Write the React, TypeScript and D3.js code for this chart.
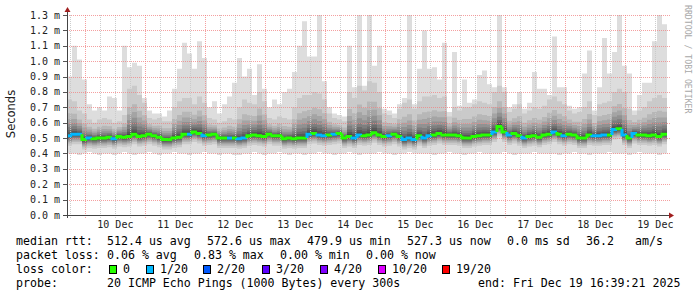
import React from 'react';
import * as d3 from 'd3';

const START = new Date(2025, 11, 9, 16, 39, 21);
const END = new Date(2025, 11, 19, 16, 39, 21);
const STEP_HOURS = 2;

// median rtt per 2-hour step (ms)
const medianMs = [
  0.515,0.525,0.525,0.49,0.50,0.495,0.50,0.50,0.505,0.495,0.51,0.505,0.51,0.525,0.51,0.515,0.525,0.515,0.505,0.49,0.49,0.50,0.505,0.525,
  0.525,0.54,0.53,0.515,0.52,0.525,0.50,0.50,0.50,0.50,0.495,0.50,0.515,0.52,0.515,0.51,0.525,0.515,0.515,0.495,0.50,0.495,0.50,0.50,
  0.525,0.53,0.52,0.515,0.52,0.525,0.53,0.50,0.51,0.50,0.52,0.515,0.52,0.535,0.52,0.51,0.515,0.525,0.51,0.49,0.50,0.49,0.515,0.50,
  0.515,0.52,0.53,0.52,0.52,0.52,0.515,0.50,0.50,0.51,0.515,0.52,0.52,0.54,0.575,0.54,0.52,0.53,0.515,0.50,0.51,0.515,0.505,0.52,
  0.525,0.54,0.525,0.515,0.525,0.52,0.50,0.50,0.52,0.515,0.515,0.52,0.52,0.555,0.56,0.52,0.50,0.53,0.52,0.52,0.515,0.52,0.51,0.525,
];
// lost pings (of 20) per step
const lossCount = [
  1,1,1,0,1,0,0,0,0,1,0,0,0,0,0,0,0,0,0,0,0,0,0,0,
  1,0,0,1,0,0,0,0,1,0,1,1,0,0,0,0,0,0,0,0,0,0,0,0,
  1,0,1,1,0,1,0,0,0,1,1,0,0,0,0,0,1,0,0,1,1,1,0,1,
  1,0,0,0,0,0,0,0,0,0,0,0,0,1,0,0,1,0,0,1,0,0,0,0,
  0,1,0,1,0,0,0,0,0,1,1,1,0,1,0,1,0,1,0,0,0,0,0,0,
];
// slowest ping per step (ms)
const maxMs = [
  0.9,1.1,1.01,0.88,0.72,0.68,0.7,0.68,0.77,0.76,0.68,1.1,0.96,0.99,0.97,0.76,0.68,0.66,0.66,0.64,0.68,0.82,0.95,1.12,
  1.05,0.95,1.13,1.02,0.7,0.74,0.66,0.72,0.77,0.86,1.02,0.9,0.95,0.78,0.98,0.82,0.7,0.75,0.72,0.8,0.82,0.93,1.1,1.26,
  1.03,1.03,1.3,0.87,0.7,0.66,0.65,0.64,1.1,0.83,1.3,0.84,1.3,0.97,1.1,0.69,0.68,0.66,0.72,0.76,1.3,0.72,0.95,1.2,
  0.95,0.96,0.88,1.12,0.67,1.06,0.71,0.88,0.73,0.75,0.91,0.94,0.85,0.83,1.3,0.83,0.7,0.72,0.8,0.69,0.73,0.93,0.82,0.82,
  0.78,1.16,0.83,0.83,0.71,0.69,0.70,0.92,1.07,0.68,0.83,1.15,0.92,1.06,1.3,0.97,0.92,0.68,0.78,0.86,0.86,1.13,1.3,1.24,
];
// second slowest ping per step (ms)
const p19Ms = [
  0.75,0.74,0.68,0.66,0.62,0.6,0.62,0.63,0.62,0.6,0.61,0.65,0.82,0.84,0.78,0.76,0.63,0.62,0.64,0.62,0.61,0.7,0.74,0.76,
  0.76,0.72,0.77,0.73,0.63,0.62,0.6,0.61,0.63,0.62,0.7,0.75,0.73,0.72,0.8,0.74,0.63,0.62,0.64,0.63,0.62,0.7,0.76,0.78,
  0.78,0.8,0.79,0.75,0.66,0.65,0.66,0.67,0.8,0.76,0.84,0.82,0.87,0.86,0.8,0.72,0.68,0.69,0.72,0.76,0.75,0.72,0.74,0.77,
  0.77,0.78,0.76,0.77,0.68,0.7,0.68,0.7,0.73,0.72,0.74,0.73,0.72,0.8,0.84,0.82,0.71,0.7,0.72,0.69,0.68,0.7,0.69,0.71,
  0.75,0.77,0.74,0.72,0.68,0.69,0.68,0.7,0.74,0.72,0.72,0.73,0.74,0.8,0.82,0.8,0.69,0.7,0.68,0.7,0.74,0.76,0.78,0.76,
];
// fastest ping per step (ms)
const minMs = [
  0.40,0.40,0.39,0.40,0.41,0.40,0.39,0.40,0.40,0.39,0.40,0.41,0.40,0.39,0.40,0.40,0.41,0.40,0.39,0.40,0.40,0.41,0.40,0.40,
  0.39,0.40,0.40,0.41,0.40,0.40,0.39,0.40,0.40,0.39,0.39,0.40,0.40,0.41,0.40,0.39,0.40,0.40,0.41,0.40,0.39,0.40,0.40,0.39,
  0.40,0.40,0.41,0.40,0.40,0.39,0.40,0.40,0.41,0.40,0.39,0.40,0.40,0.40,0.41,0.40,0.40,0.39,0.40,0.40,0.41,0.40,0.40,0.40,
  0.40,0.39,0.40,0.40,0.41,0.40,0.40,0.39,0.40,0.40,0.41,0.40,0.40,0.40,0.40,0.41,0.40,0.39,0.40,0.40,0.40,0.41,0.40,0.40,
  0.40,0.40,0.39,0.40,0.40,0.41,0.40,0.40,0.39,0.40,0.40,0.40,0.41,0.40,0.40,0.40,0.39,0.40,0.41,0.40,0.40,0.40,0.39,0.40,
];
// ping ranks 2..9 below the median (ms)
const lowOffsets = [0.065, 0.05, 0.04, 0.032, 0.025, 0.018, 0.012, 0.006];
// ping ranks 12..18 as a share of the median..2nd-slowest span
const upShares = [0.05, 0.1, 0.16, 0.24, 0.34, 0.46, 0.62];

const yTicks = [0, 0.1, 0.2, 0.3, 0.4, 0.5, 0.6, 0.7, 0.8, 0.9, 1.0, 1.1, 1.2, 1.3];
const dayLabels = ['10 Dec', '11 Dec', '12 Dec', '13 Dec', '14 Dec', '15 Dec', '16 Dec', '17 Dec', '18 Dec', '19 Dec'];

const lossLegend = [
  { label: '0', color: '#26ff00', bx: 109, tx: 123 },
  { label: '1/20', color: '#00b8ff', bx: 146, tx: 160 },
  { label: '2/20', color: '#0059ff', bx: 203, tx: 217 },
  { label: '3/20', color: '#5e00ff', bx: 262, tx: 276 },
  { label: '4/20', color: '#7e00ff', bx: 320, tx: 334 },
  { label: '10/20', color: '#dd00ff', bx: 378, tx: 392 },
  { label: '19/20', color: '#ff0000', bx: 442, tx: 456 },
];
const lossColorFor = (n: number) => (n === 0 ? '#26ff00' : n === 1 ? '#00b8ff' : n === 2 ? '#0059ff' : n === 3 ? '#5e00ff' : n <= 5 ? '#7e00ff' : n <= 10 ? '#dd00ff' : '#ff0000');

const legendRows: { y: number; items: { x: number; t: string }[] }[] = [
  { y: 245, items: [
    { x: 16, t: 'median rtt:' }, { x: 107, t: '512.4 us avg' }, { x: 207, t: '572.6 us max' },
    { x: 307, t: '479.9 us min' }, { x: 407, t: '527.3 us now' }, { x: 507, t: '0.0 ms sd' },
    { x: 586, t: '36.2' }, { x: 635, t: 'am/s' } ] },
  { y: 259, items: [
    { x: 16, t: 'packet loss:' }, { x: 107, t: '0.06 % avg' }, { x: 194, t: '0.83 % max' },
    { x: 280, t: '0.00 % min' }, { x: 366, t: '0.00 % now' } ] },
  { y: 273, items: [{ x: 16, t: 'loss color:' }] },
  { y: 286.5, items: [
    { x: 16, t: 'probe:' }, { x: 107, t: '20 ICMP Echo Pings (1000 Bytes) every 300s' },
    { x: 478, t: 'end: Fri Dec 19 16:39:21 2025' } ] },
];

const MONO = "'DejaVu Sans Mono', monospace";

export default function App() {
  const X0 = 67, X1 = 667, Y0 = 215, Y1 = 15;
  const x = d3.scaleTime().domain([START, END]).range([X0, X1]);
  const y = d3.scaleLinear().domain([0, 1.3]).range([Y0, Y1]);
  const n = medianMs.length;
  const t = (i: number) => d3.timeHour.offset(START, i * STEP_HOURS);

  // 20 sorted pings per step
  const pings = medianMs.map((m, i) => {
    const mx = maxMs[i];
    const p19 = Math.min(p19Ms[i], mx - 0.03);
    const arr: number[] = [minMs[i]];
    lowOffsets.forEach((o) => arr.push(m - o));
    arr.push(m - 0.002, m + 0.003);
    upShares.forEach((s) => arr.push(m + s * (p19 - m)));
    arr.push(p19, mx);
    return arr;
  });

  const layers = d3.range(1, 11).map((k) => {
    const g = Math.floor((190 / 10) * (10 - k)) + 50;
    const color = d3.rgb(g, g, g).formatHex();
    const area = d3.area<number>()
      .x((i) => x(t(i)))
      .y0((i) => y(Math.min(1.3, pings[Math.min(i, n - 1)][k - 1])))
      .y1((i) => y(Math.min(1.3, pings[Math.min(i, n - 1)][20 - k])))
      .curve(d3.curveStepAfter);
    return { color, d: area(d3.range(0, n + 1)) || '' };
  });

  const dayStart = d3.timeDay.ceil(START);
  const majors = d3.timeDay.range(dayStart, END);
  const minors = d3.timeHour.every(6)!.range(START, END).filter((d) => d.getHours() !== 0);

  return (
    <svg width={697} height={297} style={{ position: 'absolute', left: 0, top: 0, background: '#fff' }}>
      <rect x={0} y={0} width={697} height={297} fill="#ffffff" />
      {/* smoke */}
      {layers.map((l, i) => <path key={i} d={l.d} fill={l.color} />)}
      {/* grid */}
      {minors.map((d, i) => (
        <line key={'mi' + i} x1={Math.round(x(d)) + 0.5} x2={Math.round(x(d)) + 0.5} y1={Y1} y2={Y0 + 3}
          stroke="#c8c8c8" strokeOpacity={0.9} strokeDasharray="1,1" />
      ))}
      {majors.map((d, i) => (
        <line key={'ma' + i} x1={Math.round(x(d)) + 0.5} x2={Math.round(x(d)) + 0.5} y1={Y1} y2={Y0 + 3}
          stroke="#f08080" strokeOpacity={0.75} strokeDasharray="1,1" />
      ))}
      {yTicks.map((v, i) => (
        <g key={'yt' + i}>
          {v > 0 && <line x1={X0} x2={X1 + 3} y1={Math.round(y(v)) + 0.5} y2={Math.round(y(v)) + 0.5}
            stroke="#f08080" strokeOpacity={0.75} strokeDasharray="1,1" />}
          <line x1={X0 - 4} x2={X0} y1={Math.round(y(v)) + 0.5} y2={Math.round(y(v)) + 0.5} stroke="#555" />
          <text x={60} y={y(v) + 3.5} textAnchor="end" fontFamily={MONO} fontSize={10} fill="#222">
            {v.toFixed(1) + ' m'}
          </text>
        </g>
      ))}
      {/* median */}
      {medianMs.map((m, i) => {
        const x0 = x(t(i)), x1 = x(t(i + 1));
        const yPrev = y(i > 0 ? medianMs[i - 1] : m);
        const yc = y(m);
        return <path key={'md' + i} d={`M${x0},${yPrev}V${yc}H${Math.min(x1, X1)}`} fill="none"
          stroke={lossColorFor(lossCount[i])} strokeWidth={3} />;
      })}
      {/* axes */}
      <line x1={X0 - 4} x2={X1 + 4} y1={Y0 + 0.5} y2={Y0 + 0.5} stroke="#444" />
      <line x1={X0 + 0.5} x2={X0 + 0.5} y1={Y0 + 3} y2={Y1 - 5} stroke="#444" />
      <path d={`M${X1 + 2},${Y0 - 2.5}L${X1 + 7},${Y0 + 0.5}L${X1 + 2},${Y0 + 3.5}Z`} fill="#a01e1e" />
      <path d={`M${X0 - 2.5},${Y1 - 3}L${X0 + 0.5},${Y1 - 8}L${X0 + 3.5},${Y1 - 3}Z`} fill="#a01e1e" />
      {/* x labels */}
      {dayLabels.map((lab, i) => (
        <text key={'xl' + i} x={x(d3.timeHour.offset(majors[i], 12))} y={228} textAnchor="middle"
          fontFamily={MONO} fontSize={10} fill="#222">{lab}</text>
      ))}
      {/* titles */}
      <text transform="translate(15,114) rotate(-90)" textAnchor="middle" fontFamily="'DejaVu Sans', sans-serif"
        fontSize={11.5} fill="#222">Seconds</text>
      <text transform="translate(685,5) rotate(90)" fontFamily={MONO} fontSize={8.2} fill="#a8a8a8">RRDTOOL / TOBI OETIKER</text>
      {/* legend */}
      {legendRows.map((r, ri) => r.items.map((it, ii) => (
        <text key={'lg' + ri + '-' + ii} x={it.x} y={r.y} fontFamily={MONO} fontSize={11.6} fill="#000"
          style={{ whiteSpace: 'pre' }}>{it.t}</text>
      )))}
      {lossLegend.map((l, i) => (
        <g key={'ll' + i}>
          <rect x={l.bx + 0.5} y={265.5} width={7} height={8} fill={l.color} stroke="#000" />
          <text x={l.tx} y={273} fontFamily={MONO} fontSize={11.6} fill="#000">{l.label}</text>
        </g>
      ))}
    </svg>
  );
}
